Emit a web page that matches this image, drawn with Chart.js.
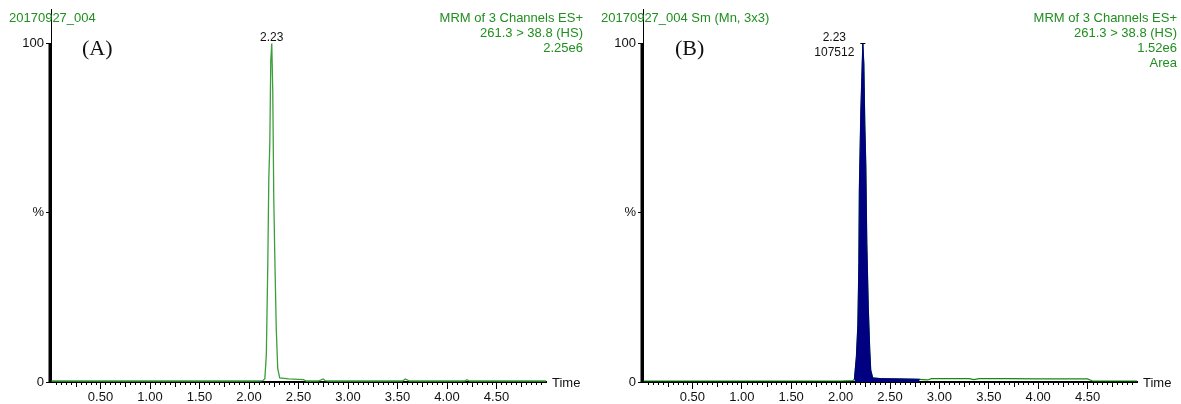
<!DOCTYPE html>
<html>
<head>
<meta charset="utf-8">
<script src="https://cdn.jsdelivr.net/npm/chart.js@4/dist/chart.umd.min.js"></script>
<style>
  body { margin: 0; background: #fff; width: 1181px; height: 404px; position: relative; overflow: hidden; font-family: Arial, "Liberation Sans", sans-serif; }
  canvas { position: absolute; top: 0; }
  #chartA { left: 0; }
  #chartB { left: 590px; }
  .hdr { position: absolute; color: #1f8f1f; font-size: 13px; line-height: 15px; white-space: nowrap; }
  .right { text-align: right; }
  .tag { position: absolute; font-family: "Liberation Serif", "Times New Roman", serif; font-size: 22px; color: #111; }
</style>
</head>
<body>
<canvas id="chartA" width="590" height="404"></canvas>
<canvas id="chartB" width="591" height="404"></canvas>

<div class="hdr" style="left:9px; top:10px;">20170927_004</div>
<div class="hdr right" style="right:598px; top:10px;">MRM of 3 Channels ES+<br>261.3 &gt; 38.8 (HS)<br>2.25e6</div>
<div class="tag" style="left:82px; top:35px;">(A)</div>

<div class="hdr" style="left:601px; top:10px;">20170927_004 Sm (Mn, 3x3)</div>
<div class="hdr right" style="right:4px; top:10px;">MRM of 3 Channels ES+<br>261.3 &gt; 38.8 (HS)<br>1.52e6<br>Area</div>
<div class="tag" style="left:675px; top:35px;">(B)</div>

<script>
// axis ticks
var xTickValues = [0.5, 1.0, 1.5, 2.0, 2.5, 3.0, 3.5, 4.0, 4.5];
var yTickValues = [0, 50, 100];
var yTickLabels = ['0', '%', '100'];

// (A) raw trace, % of 2.25e6
var timesA = [0, 0.3, 0.6, 1.0, 1.4, 1.8, 2.1, 2.14, 2.16, 2.175, 2.19, 2.20, 2.21, 2.22, 2.23, 2.24, 2.25, 2.26, 2.275, 2.29, 2.31, 2.4, 2.5, 2.55, 2.58, 2.7, 2.75, 2.77, 2.8, 3.2, 3.55, 3.58, 3.62, 3.9, 4.18, 4.2, 4.23, 4.6, 5.0];
var intensityA = [0.3, 0.3, 0.3, 0.3, 0.3, 0.3, 0.3, 0.4, 1, 8, 35, 60, 70, 95, 100, 86, 55, 38, 16, 4, 1.2, 0.9, 0.8, 0.7, 0.3, 0.3, 0.9, 0.4, 0.3, 0.3, 0.3, 0.9, 0.3, 0.3, 0.3, 0.7, 0.3, 0.3, 0.3];

// (B) smoothed trace (Mn, 3x3), % of 1.52e6
var timesB = [0, 0.5, 1.0, 1.5, 2.0, 2.12, 2.14, 2.16, 2.175, 2.185, 2.19, 2.205, 2.215, 2.225, 2.235, 2.245, 2.255, 2.265, 2.28, 2.295, 2.305, 2.325, 2.4, 2.6, 2.8, 2.88, 2.92, 3.3, 3.35, 3.4, 3.7, 4.0, 4.5, 4.55, 5.0];
var intensityB = [0.3, 0.3, 0.3, 0.3, 0.3, 0.4, 0.8, 7.5, 17, 35, 57, 80, 90, 100, 94, 76, 64, 41, 22, 9.4, 3.5, 1.2, 1.0, 0.9, 0.8, 0.6, 1.0, 1.0, 0.7, 1.0, 1.0, 0.9, 0.9, 0.3, 0.3];
var areaStartB = 2.14;
var areaEndB = 2.85;

function toPoints(xs, ys) {
    return xs.map(function(x, i) { return { x: x, y: ys[i] }; });
}

var chromDeco = {
    id: 'chromDeco',
    afterDraw: function(chart, args, opts) {
        var ctx = chart.ctx;
        var xs = chart.scales.x;
        var ys = chart.scales.y;
        var area = chart.chartArea;
        ctx.save();
        // minor ticks on the time axis
        ctx.strokeStyle = '#000';
        ctx.lineWidth = 1;
        for (var i = 1; i * 0.05 < xs.max; i++) {
            var v = i * 0.05;
            if (i % 10 === 0) continue;
            var px = Math.round(xs.getPixelForValue(v)) + 0.5;
            var len = (i % 5 === 0) ? 5 : 3;
            ctx.beginPath();
            ctx.moveTo(px, area.bottom);
            ctx.lineTo(px, area.bottom + len);
            ctx.stroke();
        }
        // thick part of the intensity axis
        ctx.lineWidth = 3;
        ctx.beginPath();
        ctx.moveTo(area.left - 1, ys.getPixelForValue(0));
        ctx.lineTo(area.left - 1, ys.getPixelForValue(100));
        ctx.stroke();
        // axis name
        ctx.fillStyle = '#111';
        ctx.font = '13px Arial, "Liberation Sans", sans-serif';
        ctx.textBaseline = 'middle';
        ctx.textAlign = 'left';
        ctx.fillText('Time', area.right + 6, area.bottom + 1);
        // peak labels
        ctx.font = '12px Arial, "Liberation Sans", sans-serif';
        ctx.textAlign = 'center';
        ctx.textBaseline = 'alphabetic';
        var pk = opts.peak;
        var ppx = xs.getPixelForValue(pk.time);
        var ppy = ys.getPixelForValue(100);
        var lx = ppx + pk.offset;
        ctx.fillText(pk.lines[0], lx, ppy - 3);
        if (pk.lines.length > 1) {
            ctx.fillText(pk.lines[1], lx, ppy + 12);
            ctx.lineWidth = 1;
            ctx.beginPath();
            ctx.moveTo(ppx - 3, Math.round(ppy) - 0.5);
            ctx.lineTo(ppx + 2, Math.round(ppy) - 0.5);
            ctx.stroke();
        }
        ctx.restore();
    }
};

function makeChart(id, datasets, yWidth, peak) {
    return new Chart(document.getElementById(id), {
        type: 'line',
        data: { datasets: datasets },
        options: {
            responsive: false,
            animation: false,
            devicePixelRatio: 1,
            layout: { padding: { left: 0, right: 44, top: 9, bottom: 0 } },
            elements: { point: { radius: 0 }, line: { tension: 0 } },
            plugins: {
                legend: { display: false },
                tooltip: { enabled: false },
                chromDeco: { peak: peak }
            },
            scales: {
                x: {
                    type: 'linear',
                    min: 0,
                    max: 5.0,
                    afterBuildTicks: function(scale) {
                        scale.ticks = xTickValues.map(function(v) { return { value: v }; });
                    },
                    afterFit: function(scale) { scale.height = 22; },
                    grid: { drawOnChartArea: false, tickLength: 7, color: '#000' },
                    border: { color: '#000', width: 2 },
                    ticks: {
                        color: '#111',
                        padding: 1,
                        maxRotation: 0,
                        autoSkip: false,
                        font: { family: 'Arial, "Liberation Sans", sans-serif', size: 13 },
                        callback: function(v) { return Number(v).toFixed(2); }
                    }
                },
                y: {
                    min: 0,
                    max: 110,
                    afterBuildTicks: function(scale) {
                        scale.ticks = yTickValues.map(function(v) { return { value: v }; });
                    },
                    afterFit: function(scale) { scale.width = yWidth; },
                    grid: { drawOnChartArea: false, tickLength: 5, color: '#000' },
                    border: { color: '#000', width: 1 },
                    ticks: {
                        color: '#111',
                        padding: 2,
                        font: { family: 'Arial, "Liberation Sans", sans-serif', size: 13 },
                        callback: function(v) { return yTickLabels[yTickValues.indexOf(v)]; }
                    }
                }
            }
        },
        plugins: [chromDeco]
    });
}

makeChart('chartA', [{
    data: toPoints(timesA, intensityA),
    borderColor: '#3a9e3a',
    borderWidth: 1.3,
    fill: false
}], 51, { time: 2.23, offset: 0, lines: ['2.23'] });

var areaPoints = toPoints(timesB, intensityB).filter(function(p) {
    return p.x >= areaStartB && p.x <= areaEndB;
});

makeChart('chartB', [{
    data: areaPoints,
    borderColor: '#000080',
    borderWidth: 1,
    backgroundColor: '#000080',
    fill: 'origin'
}, {
    data: toPoints(timesB, intensityB),
    borderColor: '#138a13',
    borderWidth: 1.2,
    fill: false
}], 53, { time: 2.23, offset: -29, lines: ['2.23', '107512'] });
</script>
</body>
</html>
